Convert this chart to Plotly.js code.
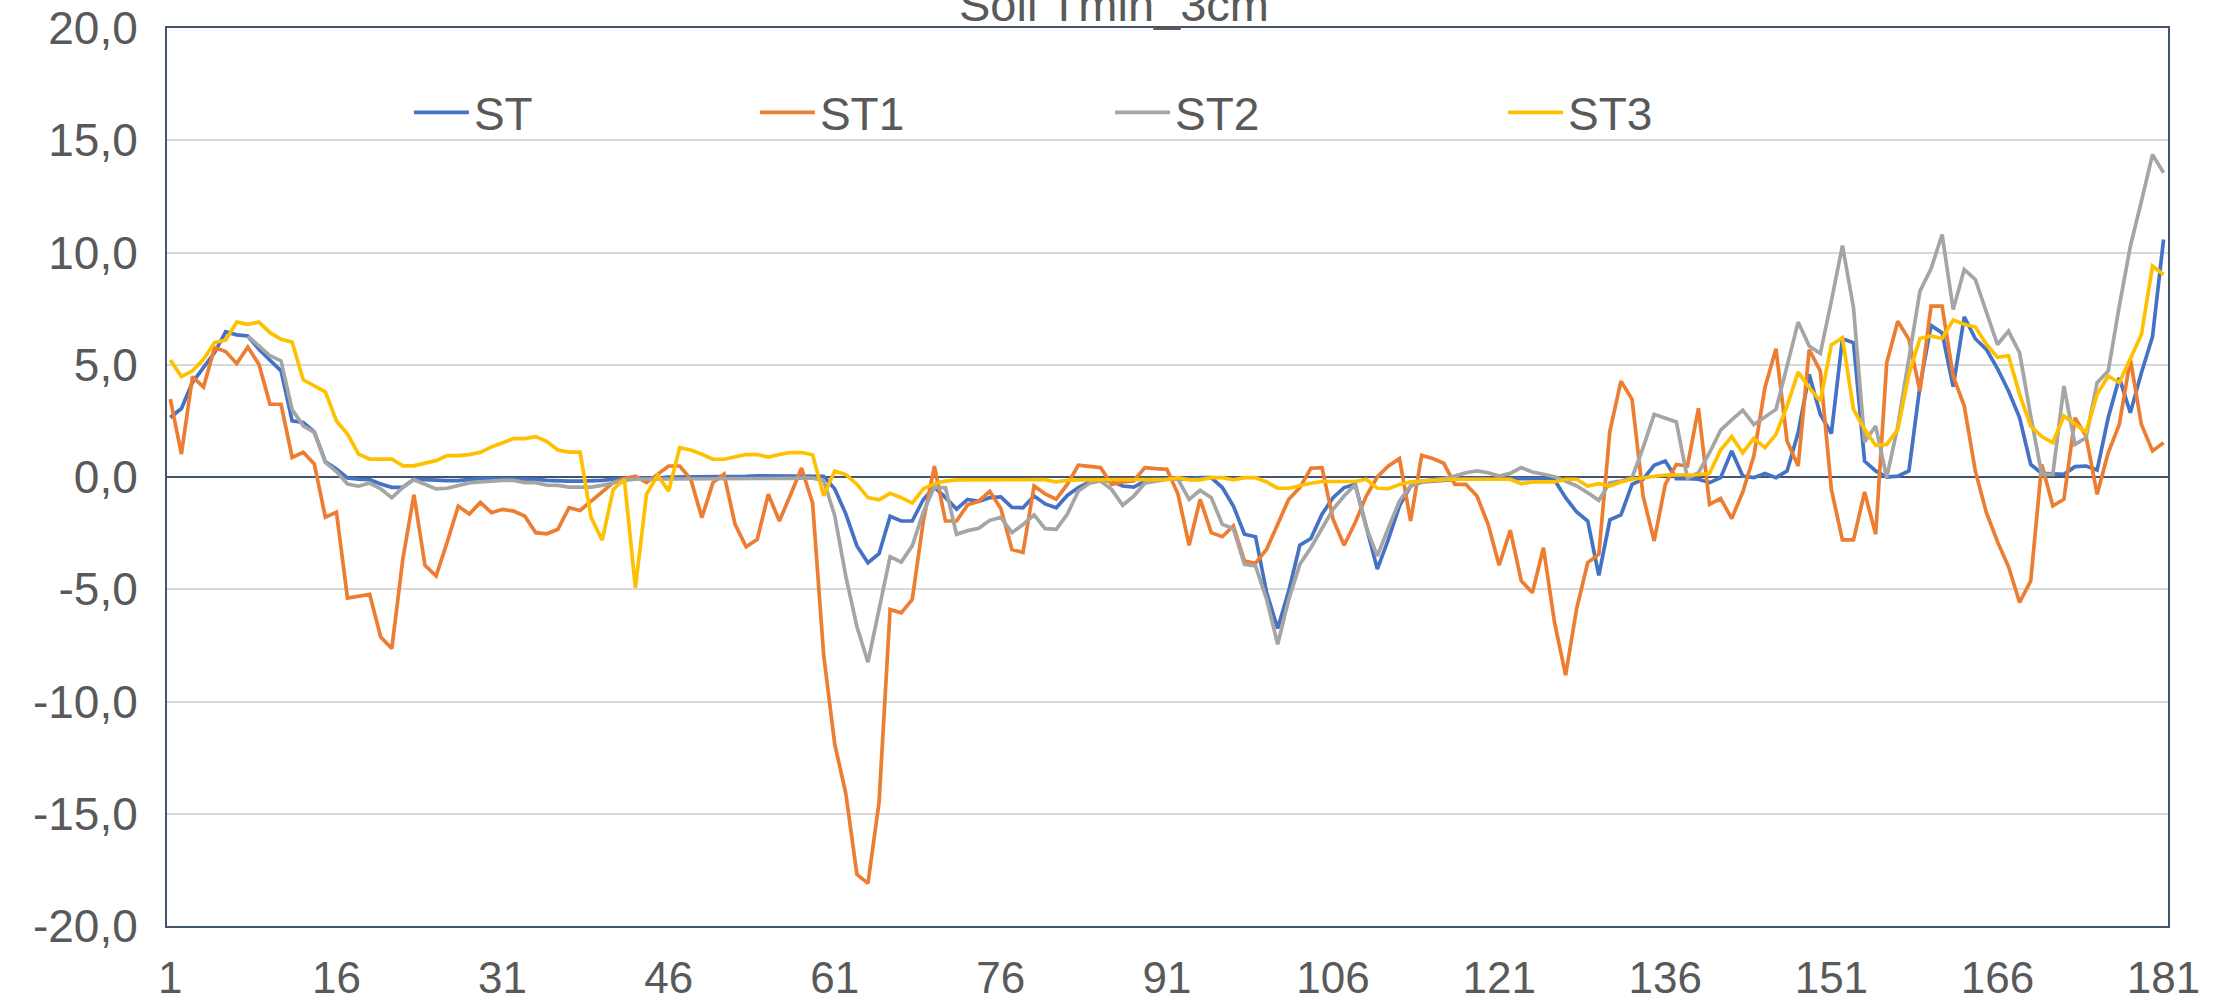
<!DOCTYPE html>
<html>
<head>
<meta charset="utf-8">
<script src="https://cdn.plot.ly/plotly-3.0.1.min.js"></script>
<style>
  html, body { margin: 0; padding: 0; background: #ffffff; }
  #chart { width: 2234px; height: 1008px; }
</style>
</head>
<body>
<div id="chart"></div>
<script>
// Category index 1..181
const days = Array.from({length: 181}, (_, k) => k + 1);

const xTickVals = [1, 16, 31, 46, 61, 76, 91, 106, 121, 136, 151, 166, 181];
const xTickText = ["1", "16", "31", "46", "61", "76", "91", "106", "121", "136", "151", "166", "181"];
const yTickVals = [-20, -15, -10, -5, 0, 5, 10, 15, 20];
const yTickText = ["-20,0", "-15,0", "-10,0", "-5,0", "0,0", "5,0", "10,0", "15,0", "20,0"];

const ST = [
  2.65, 3.05, 4.21, 4.87, 5.54, 6.47, 6.33, 6.28, 5.69, 5.2,
  4.73, 2.5, 2.43, 2.01, 0.68, 0.36, -0.04, -0.1, -0.12, -0.31,
  -0.46, -0.46, -0.09, -0.12, -0.16, -0.16, -0.16, -0.09, -0.06, -0.07,
  -0.07, -0.07, -0.07, -0.1, -0.15, -0.18, -0.18, -0.18, -0.18, -0.15,
  -0.1, -0.05, -0.05, -0.05, -0.05, 0, 0, 0, 0, 0,
  0.02, 0.03, 0.03, 0.05, 0.05, 0.05, 0.03, 0.03, 0.03, 0.03,
  -0.53, -1.64, -3.07, -3.82, -3.42, -1.75, -1.96, -1.96, -1.0, -0.45,
  -0.92, -1.43, -1.0, -1.08, -0.92, -0.89, -1.35, -1.37, -0.84, -1.2,
  -1.37, -0.82, -0.47, -0.22, -0.13, -0.18, -0.4, -0.45, -0.18, -0.1,
  -0.1, -0.1, -0.07, -0.03, -0.03, -0.47, -1.29, -2.55, -2.66, -5.15,
  -6.75, -5.07, -3.04, -2.74, -1.66, -0.92, -0.47, -0.33, -2.18, -4.1,
  -2.77, -1.29, -0.4, -0.22, -0.18, -0.13, -0.1, -0.07, -0.07, -0.07,
  -0.07, -0.07, -0.07, -0.07, -0.07, -0.13, -0.92, -1.56, -1.96, -4.38,
  -1.91, -1.69, -0.33, -0.1, 0.52, 0.71, -0.07, -0.07, -0.1, -0.25,
  -0.03, 1.16, 0.04, -0.03, 0.16, -0.03, 0.27, 1.97, 4.57, 2.79,
  1.94, 6.16, 5.98, 0.71, 0.27, 0, 0.04, 0.27, 4.05, 6.75,
  6.42, 4.02, 7.14, 6.16, 5.68, 4.83, 3.83, 2.64, 0.56, 0.16,
  0.12, 0.12, 0.46, 0.49, 0.31, 2.64, 4.42, 2.86, 4.64, 6.25,
  10.58
];

const ST1 = [
  3.47, 1.02, 4.47, 4.01, 5.76, 5.59, 5.05, 5.79, 5.02, 3.24,
  3.24, 0.87, 1.1, 0.58, -1.79, -1.57, -5.39, -5.3, -5.23, -7.13,
  -7.64, -3.64, -0.79, -3.94, -4.41, -2.9, -1.3, -1.65, -1.13, -1.59,
  -1.44, -1.52, -1.74, -2.48, -2.53, -2.33, -1.37, -1.49, -1.07, -0.62,
  -0.25, -0.07, 0.04, -0.25, 0.12, 0.49, 0.49, -0.1, -1.81, -0.25,
  0.12, -2.11, -3.11, -2.78, -0.77, -1.96, -0.8, 0.4, -1.16, -7.93,
  -11.9, -14.1, -17.7, -18.1, -14.5, -5.9, -6.05, -5.46, -1.96, 0.48,
  -1.96, -1.96, -1.24, -1.08, -0.64, -1.4, -3.23, -3.36, -0.4, -0.75,
  -0.99, -0.33, 0.53, 0.46, 0.42, -0.33, -0.22, -0.18, 0.42, 0.37,
  0.34, -0.77, -3.04, -0.99, -2.48, -2.66, -2.18, -3.74, -3.84, -3.22,
  -2.15, -0.99, -0.47, 0.39, 0.42, -1.88, -3.04, -2.03, -0.85, 0.0,
  0.49, 0.82, -1.96, 0.96, 0.82, 0.61, -0.33, -0.33, -0.85, -2.11,
  -3.93, -2.37, -4.63, -5.15, -3.15, -6.48, -8.83, -5.86, -3.81, -3.44,
  2.05, 4.27, 3.46, -0.85, -2.85, -0.33, 0.56, 0.49, 3.06, -1.22,
  -0.96, -1.85, -0.67, 0.93, 3.98, 5.71, 1.6, 0.49, 5.68, 4.72,
  -0.55, -2.8, -2.8, -0.67, -2.55, 5.09, 6.94, 6.13, 3.83, 7.61,
  7.61, 4.5, 3.16, 0.27, -1.59, -2.88, -4.0, -5.59, -4.63, 0.56,
  -1.29, -0.99, 2.64, 1.82, -0.77, 1.08, 2.34, 5.24, 2.34, 1.16,
  1.53
];

const ST2 = [
  null, null, null, null, null, null, null, 6.28, 5.85, 5.4,
  5.17, 3.0, 2.28, 1.99, 0.65, 0.24, -0.31, -0.41, -0.27, -0.53,
  -0.93, -0.46, -0.12, -0.31, -0.53, -0.5, -0.36, -0.26, -0.22, -0.18,
  -0.15, -0.15, -0.25, -0.25, -0.36, -0.37, -0.45, -0.45, -0.45, -0.37,
  -0.25, -0.15, -0.1, -0.1, -0.06, -0.06, -0.06, -0.06, -0.06, -0.06,
  -0.06, -0.06, -0.06, -0.08, -0.1, -0.1, -0.06, -0.05, -0.05, -0.16,
  -1.72, -4.43, -6.66, -8.25, -5.86, -3.55, -3.79, -3.07, -1.56, -0.45,
  -0.48, -2.55, -2.39, -2.28, -1.93, -1.8, -2.48, -2.12, -1.69, -2.3,
  -2.33, -1.66, -0.62, -0.28, -0.18, -0.55, -1.26, -0.85, -0.28, -0.18,
  -0.1, -0.1, -1.0, -0.59, -0.92, -2.11, -2.3, -3.89, -3.96, -5.45,
  -7.45, -5.45, -3.89, -3.15, -2.26, -1.44, -0.85, -0.33, -2.26, -3.52,
  -2.26, -1.07, -0.4, -0.18, -0.13, -0.07, 0.04, 0.19, 0.27, 0.19,
  0.04, 0.16, 0.42, 0.22, 0.12, 0.01, -0.18, -0.4, -0.7, -1.04,
  -0.25, -0.18, -0.03, 1.31, 2.79, 2.64, 2.45, -0.06, 0.19, 1.08,
  2.09, 2.54, 2.98, 2.34, 2.69, 3.01, 4.94, 6.9, 5.83, 5.5,
  7.83, 10.31, 7.54, 1.56, 2.27, -0.03, 2.27, 5.31, 8.28, 9.27,
  10.8, 7.46, 9.24, 8.8, 7.31, 5.9, 6.5, 5.53, 2.72, 0.12,
  0.12, 4.05, 1.45, 1.75, 4.2, 4.72, 7.61, 10.28, 12.28, 14.36,
  13.55
];

const ST3 = [
  5.21, 4.47, 4.73, 5.24, 5.99, 6.1, 6.9, 6.8, 6.9, 6.43,
  6.13, 6.01, 4.33, 4.06, 3.79, 2.5, 1.91, 1.02, 0.8, 0.8,
  0.8, 0.5, 0.5, 0.62, 0.73, 0.95, 0.95, 1.0, 1.1, 1.34,
  1.53, 1.71, 1.71, 1.8, 1.58, 1.2, 1.11, 1.11, -1.81, -2.81,
  -0.55, -0.1, -4.95, -0.77, 0.07, -0.62, 1.31, 1.2, 1.01, 0.79,
  0.79, 0.89, 1.0, 1.0, 0.89, 1.0, 1.09, 1.09, 0.99, -0.84,
  0.27, 0.11, -0.32, -0.92, -1.02, -0.73, -0.92, -1.16, -0.53, -0.29,
  -0.18, -0.13, -0.13, -0.13, -0.13, -0.13, -0.13, -0.13, -0.13, -0.12,
  -0.22, -0.15, -0.13, -0.12, -0.12, -0.12, -0.12, -0.12, -0.12, -0.12,
  -0.12, -0.03, -0.13, -0.13, -0.03, -0.03, -0.13, -0.03, -0.03, -0.22,
  -0.5, -0.5, -0.37, -0.28, -0.2, -0.2, -0.2, -0.2, -0.1, -0.5,
  -0.52, -0.33, -0.22, -0.19, -0.16, -0.1, -0.1, -0.1, -0.1, -0.1,
  -0.1, -0.1, -0.3, -0.22, -0.22, -0.22, -0.1, -0.1, -0.4, -0.3,
  -0.4, -0.22, -0.1, -0.03, 0, 0.09, 0.09, 0.09, 0.1, 0.16,
  1.2, 1.8, 1.08, 1.72, 1.31, 1.9, 3.16, 4.67, 3.98, 3.38,
  5.88, 6.2, 3.01, 2.12, 1.41, 1.45, 2.12, 4.57, 6.17, 6.28,
  6.17, 6.99, 6.8, 6.68, 5.91, 5.33, 5.4, 3.68, 2.27, 1.8,
  1.53, 2.72, 2.34, 2.0, 3.68, 4.5, 4.2, 5.31, 6.35, 9.39,
  9.02
];

const seriesNames = ["ST", "ST1", "ST2", "ST3"];
const seriesData = [ST, ST1, ST2, ST3];
const seriesColors = ["#4472C4", "#ED7D31", "#A5A5A5", "#FFC000"];
const legendIds = ["legend", "legend2", "legend3", "legend4"];
const legendX = [0.1209, 0.2938, 0.4713, 0.6677];

const FONT = "Liberation Sans, Arial, sans-serif";
const TXT = "#595959";

const traces = seriesData.map((vals, k) => ({
  type: "scatter",
  mode: "lines",
  x: days,
  y: vals,
  name: seriesNames[k],
  legend: legendIds[k],
  line: { color: seriesColors[k], width: 3.7 },
  connectgaps: false,
  hoverinfo: "x+y+name"
}));

const legendBase = (xpos) => ({
  x: xpos, xanchor: "left", y: 0.906, yanchor: "middle",
  orientation: "h", bgcolor: "rgba(0,0,0,0)",
  font: { family: FONT, size: 46, color: TXT },
  itemwidth: 55
});

const layout = {
  width: 2234,
  height: 1008,
  paper_bgcolor: "#ffffff",
  plot_bgcolor: "#ffffff",
  margin: { l: 167, r: 66, t: 28, b: 82, pad: 0 },
  title: {
    text: "Soil Tmin_3cm",
    font: { family: FONT, size: 47, color: TXT },
    x: 1114 / 2234, xanchor: "center", xref: "container",
    y: 1 - 5 / 1008, yanchor: "middle", yref: "container"
  },
  showlegend: true,
  legend: legendBase(legendX[0]),
  legend2: legendBase(legendX[1]),
  legend3: legendBase(legendX[2]),
  legend4: legendBase(legendX[3]),
  xaxis: {
    range: [0.7, 181.4],
    tickmode: "array",
    tickvals: xTickVals,
    ticktext: xTickText,
    showgrid: false,
    zeroline: false,
    showline: true,
    mirror: true,
    linecolor: "#44546A",
    linewidth: 2,
    ticks: "",
    ticklabelstandoff: 12,
    tickfont: { family: FONT, size: 44, color: TXT }
  },
  yaxis: {
    range: [-20, 20],
    tickmode: "array",
    tickvals: yTickVals,
    ticktext: yTickText,
    showgrid: true,
    gridcolor: "#D9D9D9",
    gridwidth: 2,
    zeroline: true,
    zerolinecolor: "#44546A",
    zerolinewidth: 2,
    showline: true,
    mirror: true,
    linecolor: "#44546A",
    linewidth: 2,
    ticks: "",
    ticklabelstandoff: 18,
    tickfont: { family: FONT, size: 46, color: TXT }
  }
};

Plotly.newPlot("chart", traces, layout, { displayModeBar: false, staticPlot: true });
</script>
</body>
</html>
